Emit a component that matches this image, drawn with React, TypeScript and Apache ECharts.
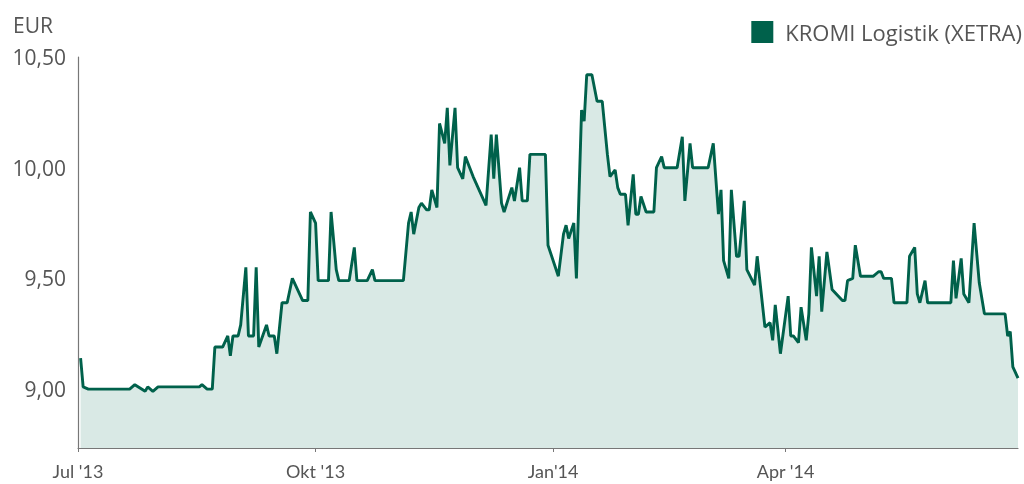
import React, { useEffect, useRef } from "react";
import * as echarts from "echarts";

// days since 2013-07-01
const dayOffsets = [1,2,4,20,22,26,27,29,31,47,48,50,52,53,56,58,59,60,62,63,65,66,68,69,70,73,74,76,77,79,81,83,87,89,90,92,93,97,98,100,101,105,107,108,112,114,115,126,128,129,130,132,133,135,136,137,139,140,142,143,144,146,147,149,150,153,158,160,161,162,164,165,168,169,171,172,174,175,181,182,186,188,189,190,192,193,195,196,197,199,201,203,205,206,208,209,210,212,213,215,216,217,218,220,223,224,226,227,232,234,235,237,238,244,246,248,249,250,252,253,255,256,258,259,262,263,266,268,269,270,272,275,276,277,279,280,282,283,284,286,287,288,290,292,296,297,298,300,301,303,308,310,311,312,315,316,321,322,324,325,326,328,329,338,339,340,342,343,345,347,349,351,359,360,361,362,364];

const prices = [9.14,9.01,9.00,9.00,9.02,8.99,9.01,8.99,9.01,9.01,9.02,9.00,9.00,9.19,9.19,9.24,9.15,9.24,9.24,9.29,9.55,9.24,9.24,9.55,9.19,9.29,9.24,9.24,9.16,9.39,9.39,9.50,9.40,9.40,9.80,9.75,9.49,9.49,9.80,9.54,9.49,9.49,9.64,9.49,9.49,9.54,9.49,9.49,9.75,9.80,9.70,9.82,9.84,9.81,9.81,9.90,9.82,10.20,10.11,10.27,10.01,10.27,10.00,9.95,10.05,9.96,9.83,10.15,9.95,10.15,9.84,9.80,9.91,9.85,10.00,9.85,9.85,10.06,10.06,9.65,9.51,9.70,9.74,9.68,9.75,9.50,10.26,10.21,10.42,10.42,10.30,10.30,10.06,9.96,9.99,9.91,9.88,9.88,9.74,9.97,9.79,9.79,9.87,9.80,9.80,10.00,10.05,10.00,10.00,10.14,9.85,10.11,10.00,10.00,10.11,9.79,9.90,9.58,9.50,9.90,9.60,9.60,9.85,9.54,9.47,9.60,9.28,9.30,9.22,9.38,9.16,9.42,9.24,9.24,9.21,9.37,9.22,9.34,9.64,9.42,9.60,9.35,9.62,9.45,9.40,9.40,9.49,9.50,9.65,9.51,9.51,9.53,9.53,9.50,9.50,9.39,9.39,9.60,9.64,9.43,9.39,9.49,9.39,9.39,9.58,9.41,9.59,9.43,9.39,9.75,9.48,9.34,9.34,9.24,9.26,9.10,9.05];

// quarter starts, as days since 2013-07-01
const xTickDays = [0, 92, 184, 274];
const xTickLabels = ["Jul '13", "Okt '13", "Jan'14", "Apr '14"];
const yTickValues = [9.0, 9.5, 10.0, 10.5];
const seriesName = "KROMI Logistik (XETRA)";
const unitLabel = "EUR";

const FONT = "'Open Sans', Lato, sans-serif";
const XFONT = "Lato, 'Open Sans', sans-serif";
const GREEN = "#00614b";
const TEXT = "#555";

export default function App() {
  const ref = useRef<HTMLDivElement>(null);
  useEffect(() => {
    if (!ref.current) return;
    const chart = echarts.init(ref.current, undefined, { renderer: "svg" });
    const data = dayOffsets.map((d, i) => [d, prices[i]]);
    chart.setOption({
      animation: false,
      textStyle: { fontFamily: FONT },
      grid: { left: 78, right: 6, top: 57, bottom: 36, containLabel: false },
      legend: {
        show: true,
        right: 2,
        top: 21,
        padding: 0,
        icon: "rect",
        itemWidth: 22,
        itemHeight: 22,
        data: [seriesName],
        textStyle: { fontSize: 22, lineHeight: 22, color: TEXT, fontFamily: FONT, padding: [0, 0, 0, 7] },
      },
      graphic: [
        {
          type: "text",
          left: 13,
          top: 14,
          style: { text: unitLabel, fontSize: 21, fill: TEXT, fontFamily: FONT },
        },
      ],
      xAxis: {
        type: "value",
        min: 0,
        max: 364,
        axisLine: { show: true, lineStyle: { color: "#777", width: 1.2 } },
        axisTick: { show: true, customValues: xTickDays, length: 4, lineStyle: { color: "#777" } },
        splitLine: { show: false },
        axisLabel: {
          customValues: xTickDays,
          color: TEXT,
          fontSize: 18,
          fontFamily: XFONT,
          margin: 14,
          formatter: (v: number) => {
            const idx = xTickDays.indexOf(Math.round(v));
            return idx >= 0 ? xTickLabels[idx] : "";
          },
        },
      },
      yAxis: {
        type: "value",
        min: 8.734,
        max: 10.5,
        axisLine: { show: true, lineStyle: { color: "#777", width: 1.2 } },
        axisTick: { show: false },
        splitLine: { show: false },
        axisLabel: {
          customValues: yTickValues,
          color: TEXT,
          fontSize: 21,
          fontFamily: FONT,
          margin: 12,
          formatter: (v: number) => v.toFixed(2).replace(".", ","),
        },
      },
      series: [
        {
          name: seriesName,
          type: "line",
          data,
          showSymbol: false,
          symbol: "none",
          itemStyle: { color: GREEN },
          lineStyle: { color: GREEN, width: 2.9 },
          areaStyle: { color: "#d9e9e5", opacity: 1, origin: "start" },
        },
      ],
    });
    return () => chart.dispose();
  }, []);
  return <div ref={ref} style={{ position: "fixed", left: 0, top: 0, width: 1024, height: 484 }} />;
}
